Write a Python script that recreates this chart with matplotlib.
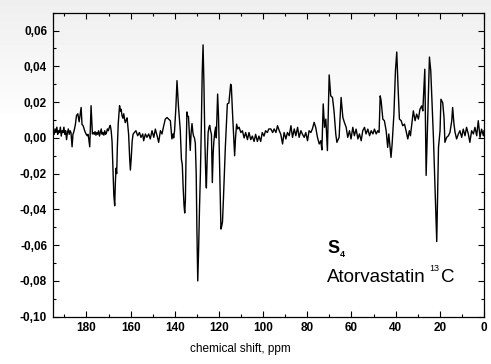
import numpy as np
import matplotlib
matplotlib.use("Agg")
import matplotlib.pyplot as plt
from matplotlib.ticker import MultipleLocator, FuncFormatter

plt.rcParams['font.family'] = ['Liberation Sans', 'DejaVu Sans']

# ---- data (chemical shift in ppm, intensity) ----
shift_ppm = [
    195.0, 194.6, 194.2, 193.8, 193.4, 193.0, 192.6, 192.2, 191.8, 191.4,
    191.0, 190.6, 190.2, 189.8, 189.4, 189.0, 188.6, 188.2, 187.8, 187.4,
    187.0, 186.5, 186.1, 185.8, 185.4, 185.0, 184.5, 183.9, 183.3, 182.7,
    182.4, 182.0, 181.6, 181.2, 180.8, 180.5, 180.1, 179.7, 179.3, 179.0,
    178.5, 177.9, 177.3, 176.9, 176.5, 176.1, 175.7, 175.3, 174.9, 174.5,
    174.1, 173.7, 173.3, 172.9, 172.5, 172.1, 171.7, 171.3, 170.9, 170.5,
    170.1, 169.6, 169.2, 168.8, 168.4, 168.0, 167.6, 167.2, 166.9, 166.6,
    166.3, 166.0, 165.6, 165.0, 164.6, 164.3, 163.9, 163.5, 163.1, 162.7,
    162.4, 162.0, 161.6, 160.9, 160.4, 160.1, 159.7, 159.3, 158.9,
    158.3, 157.6, 156.8, 156.0, 155.3, 154.5, 154.1, 153.3, 152.6, 151.8,
    151.1, 150.3, 149.5, 148.8, 148.0, 147.3, 146.5, 145.8, 145.0, 144.3,
    143.5, 142.8, 142.0, 141.3, 140.8, 140.5, 140.1, 139.5, 139.0, 138.3,
    137.5, 137.0, 136.6, 136.2, 135.8, 135.5, 135.2, 134.9, 134.5, 134.2,
    133.8, 133.4, 133.0, 132.6, 132.2, 131.8, 131.5, 131.1, 130.7, 130.3,
    130.0, 129.6, 129.2, 128.8, 128.4, 128.0, 127.6, 127.2, 126.8, 126.4,
    126.0, 125.7, 125.3, 124.9, 124.5, 124.2, 123.8, 123.4, 123.0, 122.6,
    122.3, 121.9, 121.5, 121.2, 120.9, 120.6, 120.2, 119.8, 119.4, 119.1,
    118.7, 118.4, 118.0, 117.5, 117.1, 116.7, 116.5, 116.2, 115.5, 115.1,
    114.7, 114.4, 113.9, 113.3, 112.9, 112.5, 112.0, 111.5, 110.9, 110.1,
    109.4, 108.6, 107.9, 107.1, 106.4, 105.6, 104.9, 104.1, 103.4, 102.6,
    101.9, 101.1, 100.4, 99.6, 98.9, 98.1, 97.4, 96.5, 95.7, 95.0,
    94.2, 93.5, 92.7, 92.0, 91.2, 90.5, 89.7, 89.0, 88.2, 87.4,
    86.7, 85.9, 85.2, 84.4, 83.7, 82.9, 82.2, 81.4, 80.7, 79.9,
    79.2, 78.4, 77.7, 76.9, 76.2, 75.4, 74.6, 73.9, 73.4, 72.8,
    72.2, 71.6, 70.9, 70.1, 69.4, 68.6, 67.9, 67.1, 66.6, 65.6,
    64.7, 63.9, 63.2, 62.4, 61.7, 60.9, 60.2, 59.4, 58.7, 57.9,
    57.1, 56.4, 55.6, 54.9, 54.1, 53.4, 52.6, 51.8, 51.1, 50.3,
    49.6, 48.8, 48.1, 47.5, 47.0, 46.6, 45.8, 45.1, 44.3, 43.6,
    43.1, 42.1, 41.6, 40.8, 40.1, 39.5, 38.9, 38.3, 37.5, 36.8,
    36.0, 35.3, 34.5, 33.8, 33.3, 32.7, 32.0, 31.2, 30.5, 29.7,
    29.0, 28.2, 27.7, 26.8, 26.2, 25.5, 24.7, 24.1, 23.5, 22.9,
    22.2, 21.4, 20.6, 19.9, 19.5, 18.7, 18.1, 17.7, 16.9, 16.1,
    15.4, 14.6, 14.2, 13.6, 13.1, 12.4, 11.6, 10.9, 10.1, 9.4,
    8.6, 7.9, 7.1, 6.4, 5.6, 4.8, 4.1, 3.3, 2.6, 1.8,
    1.1, 0.3, 0.0,
]

intensity = [
    0.004, 0.002, 0.005, 0.003, 0.006, 0.002, 0.004, 0.003, 0.006, 0.001,
    0.004, 0.003, 0.006, 0.002, 0.004, -0.001, 0.003, 0.005, 0.002, 0.004,
    0.003, -0.005, 0.002, 0.003, 0.005, 0.0075, 0.0125, 0.0135, 0.009, 0.0142,
    0.017, 0.0075, 0.007, 0.0057, 0.004, 0.003, 0.002, 0.0012, 0.002, 0.000,
    -0.005, 0.018, 0.0022, 0.003, 0.002, 0.0035, 0.0015, 0.003, 0.002, 0.004,
    0.001, 0.003, 0.005, 0.002, 0.003, 0.0015, 0.004, 0.002, 0.003, 0.005,
    0.004, 0.006, 0.007, 0.004, -0.002, -0.018, -0.032, -0.038, -0.025, -0.017,
    -0.020, -0.005, 0.008, 0.018, 0.015, 0.016, 0.0125, 0.011, 0.0135, 0.010,
    0.0085, 0.010, 0.0112, 0.002, -0.012, -0.018, -0.011, -0.002, 0.002,
    0.003, 0.004, 0.0012, 0.003, 0.0003, 0.0022, -0.0016, 0.0022, 0.0003, 0.0022,
    -0.0006, 0.004, 0.0003, 0.0049, 0.0012, -0.0025, 0.004, 0.0022, 0.0068, 0.0105,
    0.0114, 0.0105, 0.0096, -0.0006, 0.0022, 0.000, 0.004, 0.017, 0.032, 0.017,
    0.004, -0.012, -0.015, -0.028, -0.038, -0.042, -0.035, -0.010, 0.0145, 0.012,
    0.012, 0.003, -0.007, 0.003, 0.008, 0.003, 0.001, 0.000, -0.003, -0.020,
    -0.050, -0.080, -0.062, -0.039, -0.020, 0.005, 0.035, 0.052, 0.030, 0.000,
    -0.020, -0.028, -0.010, 0.003, 0.006, 0.007, 0.004, 0.002, -0.025, -0.008,
    -0.002, 0.003, 0.006, 0.000, 0.012, 0.0245, 0.012, -0.010, -0.035, -0.051,
    -0.049, -0.047, -0.035, -0.018, -0.005, 0.005, 0.011, 0.019, 0.0195, 0.025,
    0.030, 0.029, 0.015, 0.000, -0.010, 0.000, 0.0077, 0.005, 0.006, 0.003,
    0.004, 0.000, 0.003, -0.001, 0.003, -0.001, 0.001, -0.002, 0.002, -0.002,
    0.001, -0.002, 0.003, 0.001, 0.004, 0.003, 0.005, 0.005, 0.003, 0.005,
    0.003, 0.0068, 0.004, 0.002, -0.0034, 0.003, -0.0006, 0.003, 0.0012, 0.0068,
    0.0003, 0.005, 0.0012, 0.0059, 0.0003, 0.004, 0.002, 0.0003, 0.003, -0.0016,
    0.004, 0.003, 0.005, 0.0087, 0.0059, 0.0003, -0.0034, -0.0016, -0.0067, 0.019,
    0.0059, 0.0105, -0.0071, 0.0352, 0.0235, 0.0226, 0.015, 0.002, -0.0025, 0.0003,
    0.0226, 0.0114, 0.0086, 0.0059, 0.0003, 0.0040, -0.0006, 0.0059, 0.0012, 0.0049,
    -0.0006, 0.0022, -0.0016, 0.0040, 0.0059, 0.0022, 0.0049, 0.0012, 0.0040, 0.0022,
    0.0049, 0.0022, 0.0040, 0.003, 0.0235, 0.021, 0.0105, 0.0096, 0.004, -0.0053,
    0.0022, -0.0109, -0.0035, 0.013, 0.0374, 0.048, 0.028, 0.0105, 0.0096, 0.0068,
    0.0077, 0.004, -0.0006, 0.004, 0.0012, 0.0077, 0.0151, 0.0096, 0.0133, 0.0105,
    0.016, 0.0179, 0.0151, 0.0384, -0.021, 0.0096, 0.0452, 0.0374, 0.0188, 0.0003,
    -0.0276, -0.058, -0.0053, 0.004, 0.0216, 0.0197, 0.0114, -0.0025, 0.0003, 0.0012,
    0.0031, 0.0096, 0.017, 0.0077, 0.0031, -0.0006, 0.0022, 0.004, 0.0003, 0.0049,
    0.0012, 0.0059, 0.0022, -0.0025, 0.004, 0.0022, 0.0059, 0.0012, 0.0096, 0.0003,
    0.0049, 0.0012, 0.004,
]

x_ticks = [180, 160, 140, 120, 100, 80, 60, 40, 20, 0]
y_ticks = [-0.10, -0.08, -0.06, -0.04, -0.02, 0.00, 0.02, 0.04, 0.06]

W, H = 491, 364
fig = plt.figure(figsize=(W / 100, H / 100), dpi=100)
fig.patch.set_facecolor('white')

# subtle grey gradient at the top of the scan
bg = fig.add_axes([0, 0, 1, 1], zorder=-5)
rows = np.linspace(0, 1, H)
shade = np.where(rows < 113 / H, 0.935 + (1 - 0.935) * (rows / (113 / H)) * 0.85, 1.0)
bg.imshow(np.tile(shade[:, None], (1, 4)), cmap='gray', vmin=0, vmax=1,
          aspect='auto', extent=[0, 1, 0, 1], origin='upper')
bg.set_axis_off()

ax = fig.add_axes([53.3 / W, (H - 316.7) / H, (484 - 53.3) / W, (316.7 - 12.7) / H])
ax.set_facecolor('none')
ax.plot(shift_ppm, intensity, color='black', lw=1.0)

ax.set_xlim(195, 0)
ax.set_ylim(-0.10, 0.07)
ax.set_xticks(x_ticks)
ax.set_yticks(y_ticks)
ax.xaxis.set_minor_locator(MultipleLocator(10))
ax.yaxis.set_minor_locator(MultipleLocator(0.01))
ax.yaxis.set_major_formatter(FuncFormatter(lambda v, p: f"{v:.2f}".replace('.', ',').replace('-0,00', '0,00')))
ax.tick_params(which='both', direction='in', top=True, right=True, width=0.8)
ax.tick_params(which='major', length=4)
ax.tick_params(which='minor', length=2.5)
ax.tick_params(axis='y', pad=4.5)
ax.tick_params(axis='x', pad=3.5)
for lab in ax.get_xticklabels() + ax.get_yticklabels():
    lab.set_fontweight('bold')
    lab.set_fontsize(8.5)
for sp in ax.spines.values():
    sp.set_linewidth(0.9)

fig.text(240 / W, 1 - 349 / H, 'chemical shift, ppm', ha='center', va='center', fontsize=8.5)

ax.text(71.0, -0.0645, 'S', fontsize=13, fontweight='bold', ha='left', va='baseline')
ax.text(65.4, -0.0665, '4', fontsize=6.5, fontweight='bold', ha='left', va='baseline')
ax.text(71.0, -0.0805, 'Atorvastatin', fontsize=13.5, ha='left', va='baseline')
ax.text(24.6, -0.0742, '13', fontsize=6.5, ha='left', va='baseline')
ax.text(19.5, -0.0805, 'C', fontsize=13.5, ha='left', va='baseline')

fig.savefig('out.png', dpi=100)
